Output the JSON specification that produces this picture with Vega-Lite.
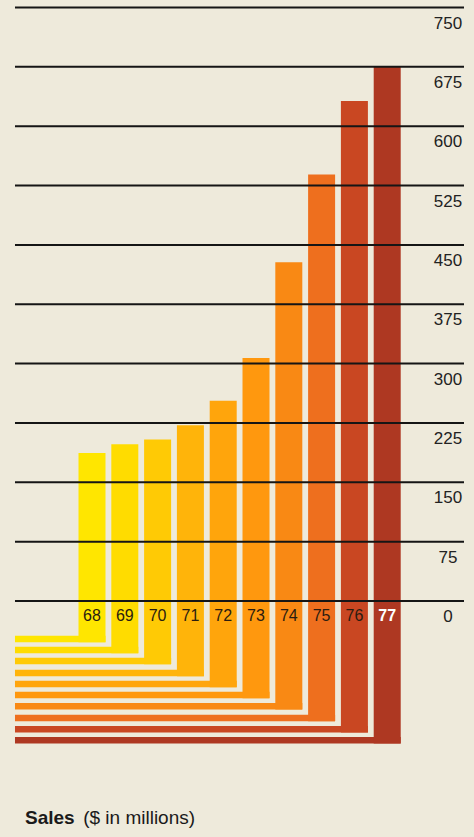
{
  "$schema": "https://vega.github.io/schema/vega-lite/v6.json",
  "width": 474,
  "height": 837,
  "autosize": {"type": "none"},
  "padding": 0,
  "background": "#EEEADB",
  "config": {"view": {"stroke": null}, "font": "Liberation Sans"},
  "datasets": {
    "sales": [
      {"year": 68, "sales": 187, "floor": -52},
      {"year": 69, "sales": 198, "floor": -66},
      {"year": 70, "sales": 204, "floor": -80},
      {"year": 71, "sales": 222, "floor": -95},
      {"year": 72, "sales": 253, "floor": -109},
      {"year": 73, "sales": 307, "floor": -123},
      {"year": 74, "sales": 428, "floor": -137},
      {"year": 75, "sales": 539, "floor": -152},
      {"year": 76, "sales": 632, "floor": -166},
      {"year": 77, "sales": 675, "floor": -180}
    ],
    "ticks": [
      {"v": 0}, {"v": 75}, {"v": 150}, {"v": 225}, {"v": 300}, {"v": 375},
      {"v": 450}, {"v": 525}, {"v": 600}, {"v": 675}, {"v": 750}
    ]
  },
  "layer": [
    {
      "data": {"name": "sales"},
      "mark": {"type": "rect", "xOffset": 13.5, "y2Offset": -6.5},
      "encoding": {
        "x": {"field": "year", "type": "quantitative", "scale": {"domain": [65.195, 79.646], "nice": false, "zero": false, "padding": 0}, "axis": null},
        "x2": {"datum": 65.652},
        "y": {"field": "floor", "type": "quantitative", "scale": {"domain": [-298.2, 759.5], "nice": false, "zero": false, "padding": 0}, "axis": null},
        "y2": {"field": "floor"},
        "color": {"field": "year", "type": "ordinal", "legend": null,
          "scale": {"domain": [68, 69, 70, 71, 72, 73, 74, 75, 76, 77],
            "range": ["#FFE600", "#FFDC00", "#FFCA05", "#FFB40A", "#FFA50C", "#FF980E", "#F98914", "#EE6F1E", "#C94722", "#AE3822"]}}
      }
    },
    {
      "data": {"name": "sales"},
      "mark": {"type": "bar", "width": 27},
      "encoding": {
        "x": {"field": "year", "type": "quantitative", "axis": null},
        "y": {"field": "sales", "type": "quantitative", "axis": null},
        "y2": {"field": "floor"},
        "color": {"field": "year", "type": "ordinal", "legend": null}
      }
    },
    {
      "data": {"name": "ticks"},
      "mark": {"type": "rule", "color": "#151515", "strokeWidth": 2},
      "encoding": {
        "x": {"datum": 65.652, "type": "quantitative"},
        "x2": {"datum": 79.341},
        "y": {"field": "v", "type": "quantitative"}
      }
    },
    {
      "data": {"name": "ticks"},
      "mark": {"type": "text", "align": "center", "baseline": "middle", "dy": 16, "fontSize": 17, "color": "#222222"},
      "encoding": {
        "x": {"datum": 78.854, "type": "quantitative"},
        "y": {"field": "v", "type": "quantitative"},
        "text": {"field": "v", "type": "quantitative"}
      }
    },
    {
      "data": {"name": "sales"},
      "transform": [{"filter": "datum.year != 77"}],
      "mark": {"type": "text", "align": "center", "baseline": "middle", "dy": 15, "fontSize": 16, "color": "#2a1c10"},
      "encoding": {
        "x": {"field": "year", "type": "quantitative"},
        "y": {"datum": 0, "type": "quantitative"},
        "text": {"field": "year", "type": "nominal"}
      }
    },
    {
      "data": {"name": "sales"},
      "transform": [{"filter": "datum.year == 77"}],
      "mark": {"type": "text", "align": "center", "baseline": "middle", "dy": 15, "fontSize": 16, "fontWeight": "bold", "color": "#FFFFFF"},
      "encoding": {
        "x": {"field": "year", "type": "quantitative"},
        "y": {"datum": 0, "type": "quantitative"},
        "text": {"field": "year", "type": "nominal"}
      }
    },
    {
      "data": {"values": [{"label": "Sales"}]},
      "mark": {"type": "text", "align": "left", "baseline": "middle", "fontSize": 19, "fontWeight": "bold", "color": "#1a1a1a"},
      "encoding": {
        "x": {"datum": 65.957, "type": "quantitative"},
        "y": {"datum": -274.2, "type": "quantitative"},
        "text": {"field": "label", "type": "nominal"}
      }
    },
    {
      "data": {"values": [{"label": "($ in millions)"}]},
      "mark": {"type": "text", "align": "left", "baseline": "middle", "fontSize": 19, "color": "#1a1a1a"},
      "encoding": {
        "x": {"datum": 67.73, "type": "quantitative"},
        "y": {"datum": -274.2, "type": "quantitative"},
        "text": {"field": "label", "type": "nominal"}
      }
    }
  ]
}
